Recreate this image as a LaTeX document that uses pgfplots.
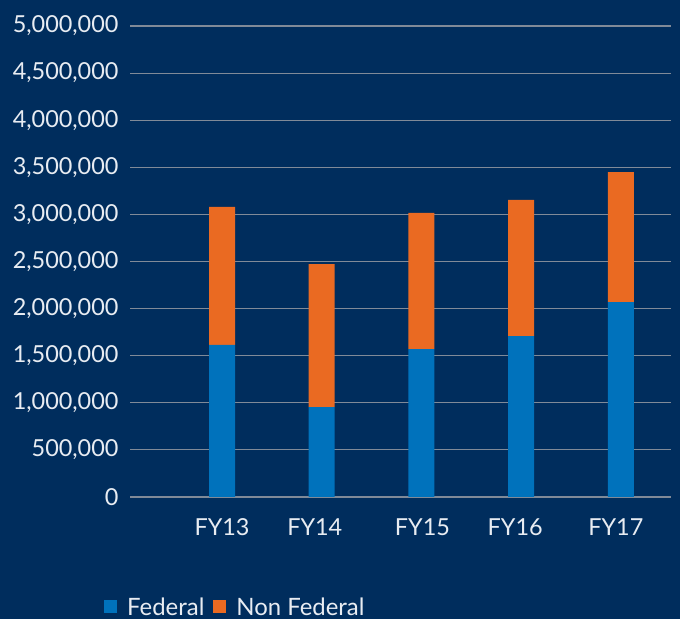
\documentclass[border=0pt]{standalone}
\usepackage{pgfplots}
\pgfplotsset{compat=1.18}
\usepackage{fontspec}
\setmainfont{Lato}
\definecolor{bg}{RGB}{0,45,93}
\definecolor{fedblue}{RGB}{0,114,188}
\definecolor{nonfed}{RGB}{234,106,34}
\definecolor{gridc}{RGB}{128,138,152}
\definecolor{txt}{RGB}{232,236,242}
\begin{document}
\begin{tikzpicture}
\fill[bg] (0,0) rectangle (680bp,619bp);
\useasboundingbox (0,0) rectangle (680bp,619bp);
\begin{axis}[
  at={(130bp,122bp)}, anchor=south west,
  scale only axis, width=541bp, height=471bp,
  xmin=-0.923, xmax=4.503, ymin=0, ymax=5000000,
  ytick={0,500000,...,5000000},
  xtick={0,0.93,2.01,2.94,3.95},
  xticklabels={FY13,FY14,FY15,FY16,FY17},
  axis line style={draw=none},
  ymajorgrids, grid style={gridc, line width=1.1pt},
  major tick length=0pt,
  scaled y ticks=false,
  /pgf/number format/assume math mode=true,
  /pgf/number format/fixed,
  /pgf/number format/1000 sep={,},
  ticklabel style={font=\fontsize{23.5}{27}\selectfont, text=txt},
  yticklabel style={xshift=-8bp},
  xticklabel style={yshift=-18bp},
  ybar stacked, bar width=26bp,
  legend style={at={(-0.048,-0.2335)}, anchor=west, draw=none, fill=none,
    text=txt, font=\fontsize{24}{28}\selectfont, inner sep=0pt,
    /tikz/every even column/.append style={column sep=7bp}},
  legend columns=2,
  legend image code/.code={\fill[#1,draw=none] (0bp,-6.5bp) rectangle (13bp,6.5bp); \path (21bp,0);},
  legend cell align=left,
]
\addplot[fill=fedblue, draw=none] coordinates {(0,1614000) (1,955000) (2,1571000) (3,1709000) (4,2070000)};
\addplot[fill=nonfed, draw=none] coordinates {(0,1465000) (1,1518000) (2,1444000) (3,1444000) (4,1380000)};
\legend{Federal, Non Federal}
\end{axis}
\end{tikzpicture}
\end{document}
